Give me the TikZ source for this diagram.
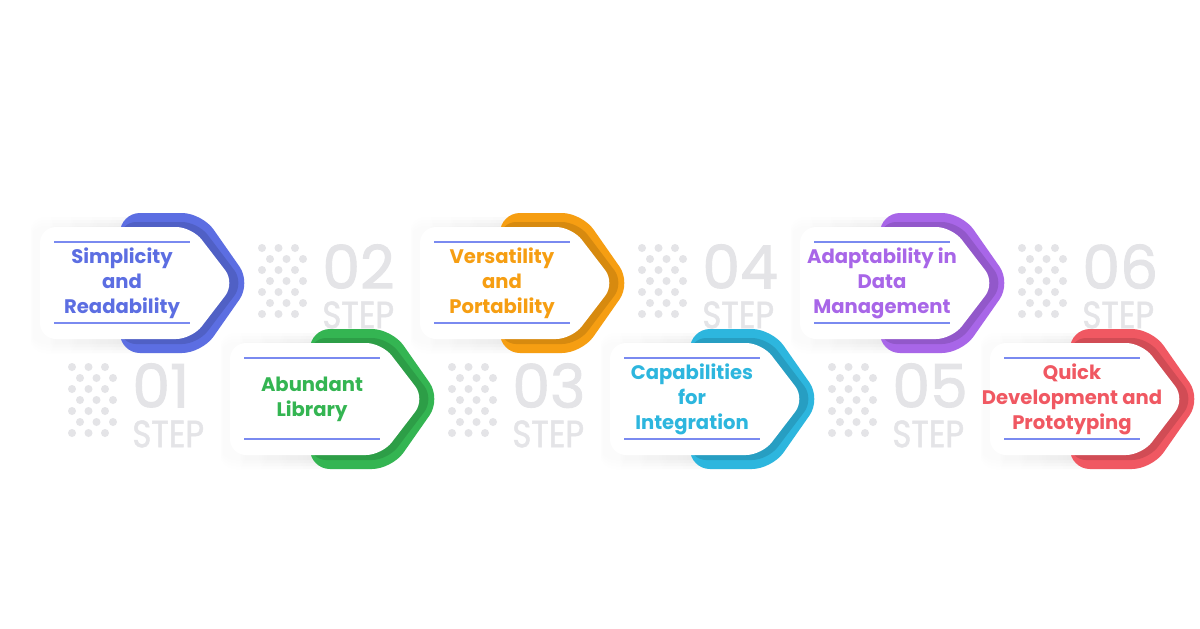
\documentclass[tikz,border=0pt]{standalone}
\usepackage{fontspec}
\setmainfont{Poppins}
\newfontfamily\numfont{Poppins}[FakeBold=1.5]
\newfontfamily\wmfont{Poppins}[FakeStretch=0.85,FakeBold=1.2]
\usetikzlibrary{positioning,calc}
\definecolor{stepblue}{RGB}{92,110,226}
\definecolor{stepgreen}{RGB}{52,181,82}
\definecolor{steporange}{RGB}{246,158,18}
\definecolor{stepcyan}{RGB}{45,182,222}
\definecolor{steppurple}{RGB}{168,102,232}
\definecolor{stepred}{RGB}{240,88,98}
\definecolor{rulecol}{RGB}{122,138,240}
\definecolor{wmgray}{RGB}{228,228,231}
\tikzset{
  steptext/.style={font=\bfseries\fontsize{9.8}{12.5}\selectfont,align=center,inner sep=0pt},
  rulel/.style={draw=rulecol,line width=0.8pt},
  stepnum/.style={font=\numfont\fontsize{30}{30}\selectfont,text=wmgray,inner sep=0pt,anchor=north west},
  stepword/.style={font=\wmfont\fontsize{19}{19}\selectfont,text=wmgray,inner sep=0pt,anchor=north west},
}
\begin{document}
\begin{tikzpicture}[x=0.5pt,y=-0.5pt]
  \useasboundingbox (0,0) rectangle (1200,628);
  \fill[white] (0,0) rectangle (1200,628);
  % step numbers in the background
  \foreach \i in {1,...,6}{
    \pgfmathsetmacro\dx{72+(\i-1)*190}
    \pgfmathsetmacro\dy{mod(\i,2)==1 ? 367 : 248}
    \foreach \r in {0,...,6}{
      \pgfmathsetmacro\sh{mod(\r,2)*8}
      \foreach \c in {0,1,2}
        \fill[wmgray] (\dx+\sh+\c*16.5,\dy+\r*11) circle[radius=4];
    }
    \node[stepnum] (n\i) at (\dx+60,\dy-4) {0\i};
    \node[stepword] (w\i) at (\dx+60,\dy+53) {STEP};
  }
  % the six cards
  \foreach \i/\col/\txt in {1/stepblue/{Simplicity\\and\\Readability},
      2/stepgreen/{Abundant\\Library},
      3/steporange/{Versatility\\and\\Portability},
      4/stepcyan/{Capabilities\\for\\Integration},
      5/steppurple/{Adaptability in\\Data\\Management},
      6/stepred/{Quick\\Development and\\Prototyping}}{
    \pgfmathsetmacro\cx{122+(\i-1)*190}
    \pgfmathsetmacro\cy{mod(\i,2)==1 ? 283 : 399}
    \foreach \s in {3,6,9,12}
      \shade[left color=white,right color=black,opacity=0.03,rounded corners=8pt]
        (\cx-92,\cy-54-\s) rectangle (\cx+60+\s,\cy+58+\s);
    \fill[\col,rounded corners=10pt] (\cx-2,\cy-70) -- (\cx+80,\cy-70) -- (\cx+129,\cy)
      -- (\cx+80,\cy+70) -- (\cx-2,\cy+70) -- cycle;
    \fill[\col!75!black,opacity=0.5,rounded corners=8pt] (\cx-2,\cy-61) -- (\cx+76,\cy-61)
      -- (\cx+122,\cy) -- (\cx+76,\cy+61) -- (\cx-2,\cy+61) -- cycle;
    \fill[white,rounded corners=8pt] (\cx-82,\cy-56) -- (\cx+70,\cy-56) -- (\cx+113,\cy)
      -- (\cx+70,\cy+56) -- (\cx-82,\cy+56) -- cycle;
    \draw[rulel] (\cx-68,\cy-41) -- (\cx+68,\cy-41);
    \draw[rulel] (\cx-68,\cy+40) -- (\cx+68,\cy+40);
    \node[steptext,text=\col] (t\i) at (\cx,\cy) {\txt};
  }
\end{tikzpicture}
\end{document}
